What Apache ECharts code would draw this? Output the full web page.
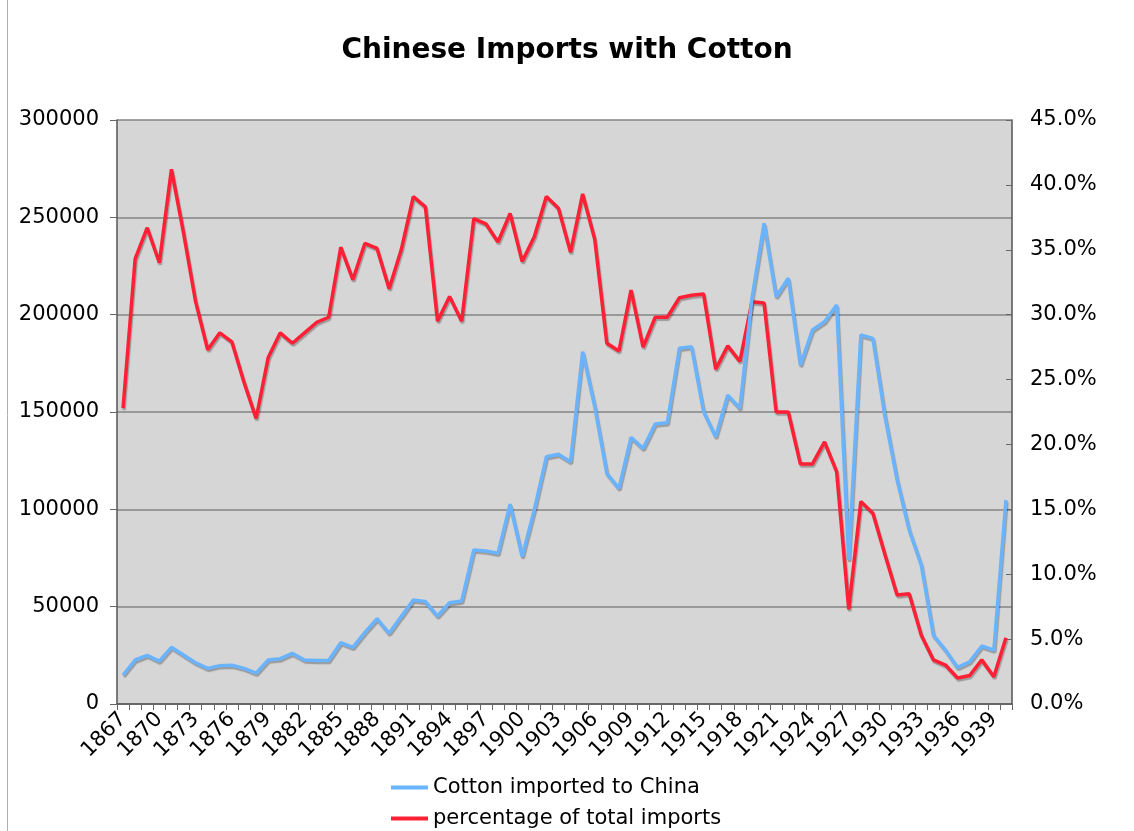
<!DOCTYPE html>
<html>
<head>
<meta charset="utf-8">
<script src="https://cdn.jsdelivr.net/npm/echarts@6/dist/echarts.min.js"></script>
<style>
html,body{margin:0;padding:0;background:#fff;}
#chart{width:1134px;height:831px;}
</style>
</head>
<body>
<div id="chart"></div>
<script>
const years = [];
for (let y = 1867; y <= 1940; y++) years.push(String(y));

const cottonImported = [
  14900, 22600, 25000, 22000, 29100, 25200, 21200, 18300, 19700, 19900,
  18300, 15800, 22600, 23300, 26000, 22600, 22300, 22300, 31500, 29100,
  36800, 43800, 36300, 44900, 53400, 52600, 45200, 52000, 52900, 79100,
  78600, 77400, 102700, 75700, 99700, 127000, 128300, 124500, 181000, 152700,
  118500, 110800, 137000, 131300, 143800, 144500, 182700, 183500, 150200, 137300,
  158700, 151900, 208400, 246900, 209200, 218700, 174100, 192100, 196400, 205000,
  74000, 189600, 187800, 147600, 115100, 89400, 71400, 35400, 27700, 18800,
  21700, 29800, 27700, 104800
];

const percentOfTotal = [
  22.8, 34.3, 36.7, 34.0, 41.2, 36.3, 31.0, 27.3, 28.6, 27.9,
  24.8, 22.0, 26.7, 28.6, 27.8, 28.6, 29.4, 29.8, 35.2, 32.7,
  35.5, 35.1, 32.0, 35.0, 39.1, 38.3, 29.5, 31.4, 29.5, 37.4,
  37.0, 35.6, 37.8, 34.1, 36.0, 39.1, 38.2, 34.8, 39.3, 35.8,
  27.8, 27.2, 31.9, 27.5, 29.8, 29.8, 31.3, 31.5, 31.6, 25.8,
  27.6, 26.4, 31.0, 30.9, 22.5, 22.5, 18.5, 18.5, 20.2, 17.9,
  7.3, 15.6, 14.7, 11.5, 8.4, 8.5, 5.3, 3.4, 3.0, 2.0,
  2.2, 3.4, 2.1, 5.1
];

const seriesNames = ['Cotton imported to China', 'percentage of total imports'];
const titleText = 'Chinese Imports with Cotton';

const FONT = 'DejaVu Sans';
const chart = echarts.init(document.getElementById('chart'), null, {renderer: 'canvas'});
const shadow = {shadowColor: 'rgba(0,0,0,0.28)', shadowBlur: 1, shadowOffsetX: 1, shadowOffsetY: 2};

const legendBase = {
  orient: 'vertical',
  left: 391,
  itemWidth: 37,
  itemHeight: 4,
  icon: 'rect',
  padding: 0,
  textStyle: {fontFamily: FONT, fontSize: 21, color: '#000'}
};

chart.setOption({
  animation: false,
  backgroundColor: '#ffffff',
  title: {
    text: titleText,
    left: 'center',
    top: 32,
    textStyle: {fontFamily: FONT, fontSize: 28, fontWeight: 'bold', color: '#000'}
  },
  legend: [
    Object.assign({}, legendBase, {top: 777, data: [seriesNames[0]]}),
    Object.assign({}, legendBase, {top: 808, data: [seriesNames[1]]})
  ],
  grid: {
    left: 117, right: 122, top: 120, bottom: 127,
    show: true,
    backgroundColor: '#d6d6d6',
    borderColor: '#d6d6d6',
    borderWidth: 0
  },
  graphic: [{
    type: 'line',
    shape: {x1: 7.5, y1: 0, x2: 7.5, y2: 831},
    style: {stroke: '#b0b0b0', lineWidth: 1}
  }],
  xAxis: {
    type: 'category',
    data: years,
    boundaryGap: true,
    axisLine: {lineStyle: {color: '#555', width: 1.5}},
    axisTick: {show: true, interval: 0, length: 6, lineStyle: {color: '#666'}},
    axisLabel: {
      interval: 2,
      rotate: 45,
      margin: 12,
      fontFamily: FONT,
      fontSize: 21,
      color: '#000'
    },
    splitLine: {show: false}
  },
  yAxis: [{
    type: 'value',
    min: 0, max: 300000, interval: 50000,
    axisLine: {show: true, lineStyle: {color: '#555', width: 1.5}},
    axisTick: {show: true, length: 7, lineStyle: {color: '#666'}},
    axisLabel: {fontFamily: FONT, fontSize: 21, color: '#000', margin: 18,
      formatter: v => String(v)},
    splitLine: {show: true, lineStyle: {color: '#858585', width: 1.5}}
  }, {
    type: 'value',
    min: 0, max: 45, interval: 5,
    position: 'right',
    axisLine: {show: true, lineStyle: {color: '#555', width: 1.5}},
    axisTick: {show: true, inside: true, length: 6, lineStyle: {color: '#666'}},
    axisLabel: {
      fontFamily: FONT, fontSize: 21, color: '#000', margin: 18,
      formatter: v => v.toFixed(1) + '%'
    },
    splitLine: {show: false}
  }],
  series: [{
    name: seriesNames[1],
    type: 'line',
    yAxisIndex: 1,
    data: percentOfTotal,
    symbol: 'none',
    color: '#ff2035',
    lineStyle: Object.assign({color: '#ff2035', width: 3.5}, shadow),
    z: 2
  }, {
    name: seriesNames[0],
    type: 'line',
    yAxisIndex: 0,
    data: cottonImported,
    symbol: 'none',
    color: '#6ab4ff',
    lineStyle: Object.assign({color: '#6ab4ff', width: 3.5}, shadow),
    z: 3
  }]
});
</script>
</body>
</html>
